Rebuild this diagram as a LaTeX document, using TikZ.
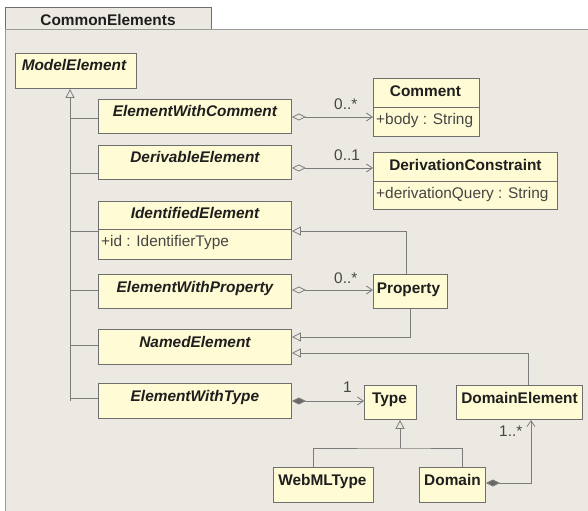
\documentclass[tikz,border=0pt]{standalone}
\usepackage{fontspec}
\setmainfont{Liberation Sans}
\usetikzlibrary{arrows.meta,calc}

\definecolor{pkgbg}{HTML}{ECE9E3}
\definecolor{pkgline}{HTML}{9A9A9A}
\definecolor{clsfill}{HTML}{FFFBD4}
\definecolor{clsdraw}{HTML}{6E6E6E}
\definecolor{wire}{HTML}{7C7C7C}
\definecolor{ink}{HTML}{1E1E1E}
\definecolor{attr}{HTML}{454545}

\newcommand\umlsize{\fontsize{15.4bp}{18bp}\selectfont}

\tikzset{
  cls/.style={draw=clsdraw, fill=clsfill, line width=0.9bp, inner sep=0pt, anchor=north west},
  absname/.style={font=\umlsize\bfseries\itshape, text=ink, anchor=base, inner sep=0pt},
  clsname/.style={font=\umlsize\bfseries, text=ink, anchor=base, inner sep=0pt},
  attrtext/.style={font=\umlsize, text=attr, anchor=base west, inner sep=0pt},
  multlabel/.style={font=\umlsize, text=attr, anchor=base west, inner sep=0pt},
  sepline/.style={draw=clsdraw, line width=0.9bp},
  wireline/.style={draw=wire, line width=0.8bp},
  agg/.style={wireline, {Diamond[open, length=14bp, width=7bp, fill=pkgbg]}-{Straight Barb[length=6bp, width=8bp]}},
  comp/.style={wireline, {Diamond[length=14bp, width=7bp, fill=wire!85!black]}-{Straight Barb[length=6bp, width=8bp]}},
  gen/.style={wireline, -{Triangle[length=9bp, width=9bp, fill=pkgbg]}},
}

\begin{document}
\begin{tikzpicture}[x=1bp, y=-1bp]
  \useasboundingbox (0,0) rectangle (588,511);
  \fill[white] (0,0) rectangle (588,511);
  \clip (0,0) rectangle (588,511);

  % package frame and its tab
  \draw[draw=clsdraw, fill=pkgbg, line width=0.9bp] (5.5,7) rectangle (211,30);
  \node[clsname] (pkgname) at (108,25.5) {CommonElements};
  \draw[draw=pkgline, fill=pkgbg, line width=1bp] (5.5,30) rectangle (600,530);

  % classes
  \node[cls, minimum width=121bp, minimum height=35bp] (me) at (15,53) {};
  \node[absname] at ($(me.north)+(-2,18)$) {ModelElement};

  \node[cls, minimum width=193bp, minimum height=34bp] (ewc) at (98,99) {};
  \node[absname] at ($(ewc.north)+(0,18)$) {ElementWithComment};

  \node[cls, minimum width=193bp, minimum height=34bp] (de) at (98,145) {};
  \node[absname] at ($(de.north)+(0,18)$) {DerivableElement};

  \node[cls, minimum width=193bp, minimum height=58bp] (ie) at (98,201) {};
  \node[absname] at ($(ie.north)+(0,17.5)$) {IdentifiedElement};
  \draw[sepline] ([yshift=-28bp]ie.north west) -- ([yshift=-28bp]ie.north east);
  \node[attrtext] at ($(ie.north west)+(3,45)$) {+id : IdentifierType};

  \node[cls, minimum width=193bp, minimum height=34bp] (ewp) at (98,274) {};
  \node[absname] at ($(ewp.north)+(0,18)$) {ElementWithProperty};

  \node[cls, minimum width=193bp, minimum height=35bp] (ne) at (98,329) {};
  \node[absname] at ($(ne.north)+(0,18)$) {NamedElement};

  \node[cls, minimum width=193bp, minimum height=35bp] (ewt) at (98,383) {};
  \node[absname] at ($(ewt.north)+(0,18)$) {ElementWithType};

  \node[cls, minimum width=106bp, minimum height=58bp] (cmt) at (373,78) {};
  \node[clsname] at ($(cmt.north)+(-1,18.5)$) {Comment};
  \draw[sepline] ([yshift=-29bp]cmt.north west) -- ([yshift=-29bp]cmt.north east);
  \node[attrtext] at ($(cmt.north west)+(3,47)$) {+body : String};

  \node[cls, minimum width=184bp, minimum height=57bp] (dc) at (373,152) {};
  \node[clsname] at ($(dc.north)+(0,18.5)$) {DerivationConstraint};
  \draw[sepline] ([yshift=-29bp]dc.north west) -- ([yshift=-29bp]dc.north east);
  \node[attrtext] at ($(dc.north west)+(3,47)$) {+derivationQuery : String};

  \node[cls, minimum width=74bp, minimum height=34bp] (prop) at (373,274) {};
  \node[clsname] at ($(prop.north)+(-2,19)$) {Property};

  \node[cls, minimum width=52bp, minimum height=34bp] (type) at (364,385) {};
  \node[clsname] at ($(type.north)+(-1,18)$) {Type};

  \node[cls, minimum width=126bp, minimum height=34bp] (delem) at (456,385) {};
  \node[clsname] at ($(delem.north)+(0,18)$) {DomainElement};

  \node[cls, minimum width=100bp, minimum height=35bp] (wmt) at (273,467) {};
  \node[clsname] at ($(wmt.north)+(-1,18.5)$) {WebMLType};

  \node[cls, minimum width=66bp, minimum height=35bp] (dom) at (419,467) {};
  \node[clsname] at ($(dom.north)+(0,18.5)$) {Domain};

  % generalization tree under ModelElement
  \coordinate (trunk) at (70,0);
  \draw[gen] (trunk |- ewt.west) -- (me.south -| trunk);
  \draw[wireline] (trunk |- 0,118) -- (ewc.west |- 0,118);
  \draw[wireline] (trunk |- 0,173) -- (de.west |- 0,173);
  \draw[wireline] (trunk |- 0,231) -- (ie.west |- 0,231);
  \draw[wireline] (trunk |- 0,290) -- (ewp.west |- 0,290);
  \draw[wireline] (trunk |- 0,345) -- (ne.west |- 0,345);
  \draw[wireline] (trunk |- 0,398) -- (ewt.west |- 0,398);

  % aggregations
  \draw[agg] (ewc.east |- 0,117) -- (cmt.west |- 0,117);
  \node[multlabel] at (334,110) {0..*};
  \draw[agg] (de.east |- 0,168) -- (dc.west |- 0,168);
  \node[multlabel] at (334,161) {0..1};
  \draw[agg] (ewp.east |- 0,290) -- (prop.west |- 0,290);
  \node[multlabel] at (334,283) {0..*};

  % Property and DomainElement specialisations
  \draw[gen] (prop.north -| 406,0) |- (ie.east |- 0,231);
  \draw[gen] (prop.south -| 410,0) |- (ne.east |- 0,337);
  \draw[gen] (delem.north -| 528,0) |- (ne.east |- 0,353);

  % compositions
  \draw[comp] (ewt.east |- 0,401) -- (type.west |- 0,401);
  \node[multlabel] at (343,392) {1};
  \draw[comp] (dom.east |- 0,483) -| (delem.south -| 531,0);
  \node[multlabel] at (499,436) {1..*};

  % Type specialisations
  \coordinate (tjoin) at (400,448);
  \draw[gen] (tjoin) -- (type.south -| tjoin);
  \draw[wireline] (wmt.north -| 313,0) |- (tjoin) -| (dom.north -| 462,0);
\end{tikzpicture}
\end{document}
